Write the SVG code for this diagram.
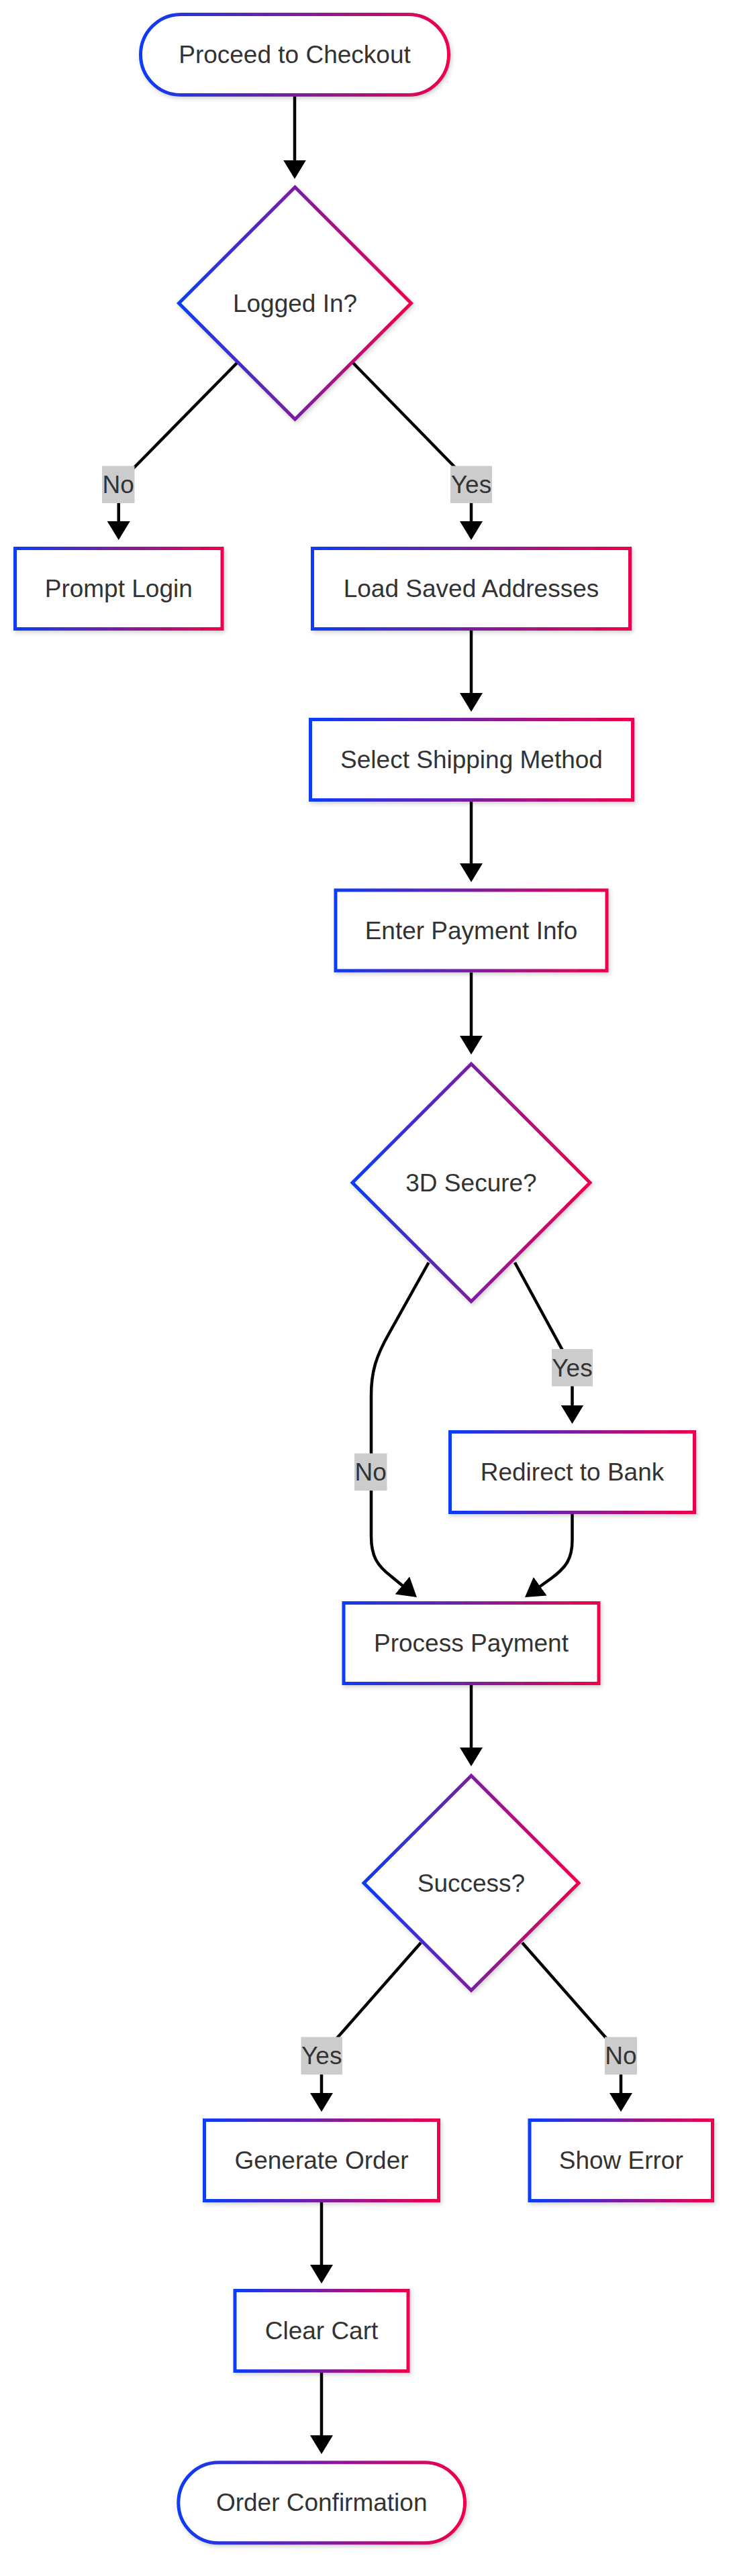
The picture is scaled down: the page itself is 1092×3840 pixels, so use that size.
<svg xmlns="http://www.w3.org/2000/svg" width="1092" height="3840" viewBox="0 0 1092 3840">
<defs>
<linearGradient id="g" x1="0" y1="0" x2="1" y2="0">
<stop offset="0" stop-color="#0a3cf5"/>
<stop offset="0.5" stop-color="#7a1ea0"/>
<stop offset="1" stop-color="#f0004b"/>
</linearGradient>
<filter id="sh" x="-10%" y="-10%" width="125%" height="130%">
<feDropShadow dx="2" dy="3" stdDeviation="3" flood-color="#000" flood-opacity="0.18"/>
</filter>
<marker id="arr" markerUnits="userSpaceOnUse" markerWidth="28" markerHeight="34" viewBox="0 0 28 34" refX="4" refY="17" orient="auto">
<path d="M0 0 L28 17 L0 34 Z" fill="#000"/>
</marker>
</defs>
<style>
.n{fill:#fff;stroke:url(#g);stroke-width:5;filter:url(#sh)}
.t{font-family:"Liberation Sans",Arial,sans-serif;font-size:37px;fill:#333;text-anchor:middle}
.e{fill:none;stroke:#000;stroke-width:4.5;marker-end:url(#arr)}
.lb{fill:#cccccc}
</style>
<rect width="1092" height="3840" fill="#fff"/>
<g id="edges">
<path class="e" d="M439 143.5 L439 242.7"/>
<path class="e" d="M353 541 L190 707 Q176.75 721 176.75 740 L176.75 781"/>
<path class="e" d="M526 541 L688 707 Q702 721 702 740 L702 781"/>
<path class="e" d="M702 937.5 L702 1037"/>
<path class="e" d="M702 1195 L702 1291"/>
<path class="e" d="M702 1449.5 L702 1548"/>
<path class="e" d="M638.6 1882 L580 1987 C560 2022 553 2045 553 2080 L553 2290 C553 2320 562 2334 583 2350 L602.4 2365.9"/>
<path class="e" d="M767 1882 L842 2020 Q852.5 2038 852.5 2055 L852.5 2098.5"/>
<path class="e" d="M852.5 2257 L852.5 2296 C852.5 2324 843 2337 821 2353 L801.5 2367"/>
<path class="e" d="M702 2509.5 L702 2609"/>
<path class="e" d="M627 2896 L496 3045 Q479 3064 479 3080 L479 3124"/>
<path class="e" d="M778 2896 L910 3046 Q925 3064 925 3080 L925 3124"/>
<path class="e" d="M479 3280.5 L479 3380"/>
<path class="e" d="M479 3534.5 L479 3634.3"/>
</g>
<g id="edge-labels">
<g id="lbl-login-no"><rect class="lb" x="152" y="694.5" width="48.5" height="55.5"/><text class="t" x="176.25" y="735">No</text></g>
<g id="lbl-login-yes"><rect class="lb" x="671" y="694.5" width="62" height="55.5"/><text class="t" x="702" y="735">Yes</text></g>
<g id="lbl-3d-no"><rect class="lb" x="528" y="2166.5" width="48.5" height="55.5"/><text class="t" x="552.25" y="2207">No</text></g>
<g id="lbl-3d-yes"><rect class="lb" x="822" y="2011" width="61" height="55.5"/><text class="t" x="852.5" y="2051.5">Yes</text></g>
<g id="lbl-succ-yes"><rect class="lb" x="448.5" y="3036.5" width="61.5" height="56"/><text class="t" x="479.25" y="3077">Yes</text></g>
<g id="lbl-succ-no"><rect class="lb" x="901" y="3036.5" width="48" height="56"/><text class="t" x="925" y="3077">No</text></g>
</g>
<g id="start"><rect class="n" x="209.5" y="21.5" width="459" height="120" rx="60" ry="60"/><text class="t" x="439" y="94">Proceed to Checkout</text></g>
<g id="logged"><polygon class="n" points="439.5,279 612.5,452 439.5,625 266.5,452"/><text class="t" x="439.5" y="464.5">Logged In?</text></g>
<g id="prompt"><rect class="n" x="22.5" y="817.5" width="308.5" height="120"/><text class="t" x="176.75" y="890">Prompt Login</text></g>
<g id="load"><rect class="n" x="465.5" y="817.5" width="473" height="120"/><text class="t" x="702" y="890">Load Saved Addresses</text></g>
<g id="ship"><rect class="n" x="462.5" y="1072.5" width="480" height="120"/><text class="t" x="702.5" y="1145">Select Shipping Method</text></g>
<g id="pay"><rect class="n" x="500" y="1327" width="404" height="120"/><text class="t" x="702" y="1399.5">Enter Payment Info</text></g>
<g id="secure"><polygon class="n" points="702,1586 879,1763 702,1940 525,1763"/><text class="t" x="702" y="1775.5">3D Secure?</text></g>
<g id="bank"><rect class="n" x="670.5" y="2134.5" width="364" height="120"/><text class="t" x="852.5" y="2207">Redirect to Bank</text></g>
<g id="process"><rect class="n" x="512" y="2389.5" width="380" height="120"/><text class="t" x="702" y="2462">Process Payment</text></g>
<g id="success"><polygon class="n" points="702,2647 862,2807 702,2967 542,2807"/><text class="t" x="702" y="2819.5">Success?</text></g>
<g id="generate"><rect class="n" x="304.5" y="3160.5" width="349" height="120"/><text class="t" x="479" y="3233">Generate Order</text></g>
<g id="error"><rect class="n" x="789" y="3160.5" width="272.5" height="120"/><text class="t" x="925.25" y="3233">Show Error</text></g>
<g id="clear"><rect class="n" x="350" y="3414.5" width="258" height="120"/><text class="t" x="479" y="3487">Clear Cart</text></g>
<g id="confirm"><rect class="n" x="265.8" y="3670.8" width="426.7" height="120" rx="60" ry="60"/><text class="t" x="479.2" y="3743.3">Order Confirmation</text></g>
</svg>
